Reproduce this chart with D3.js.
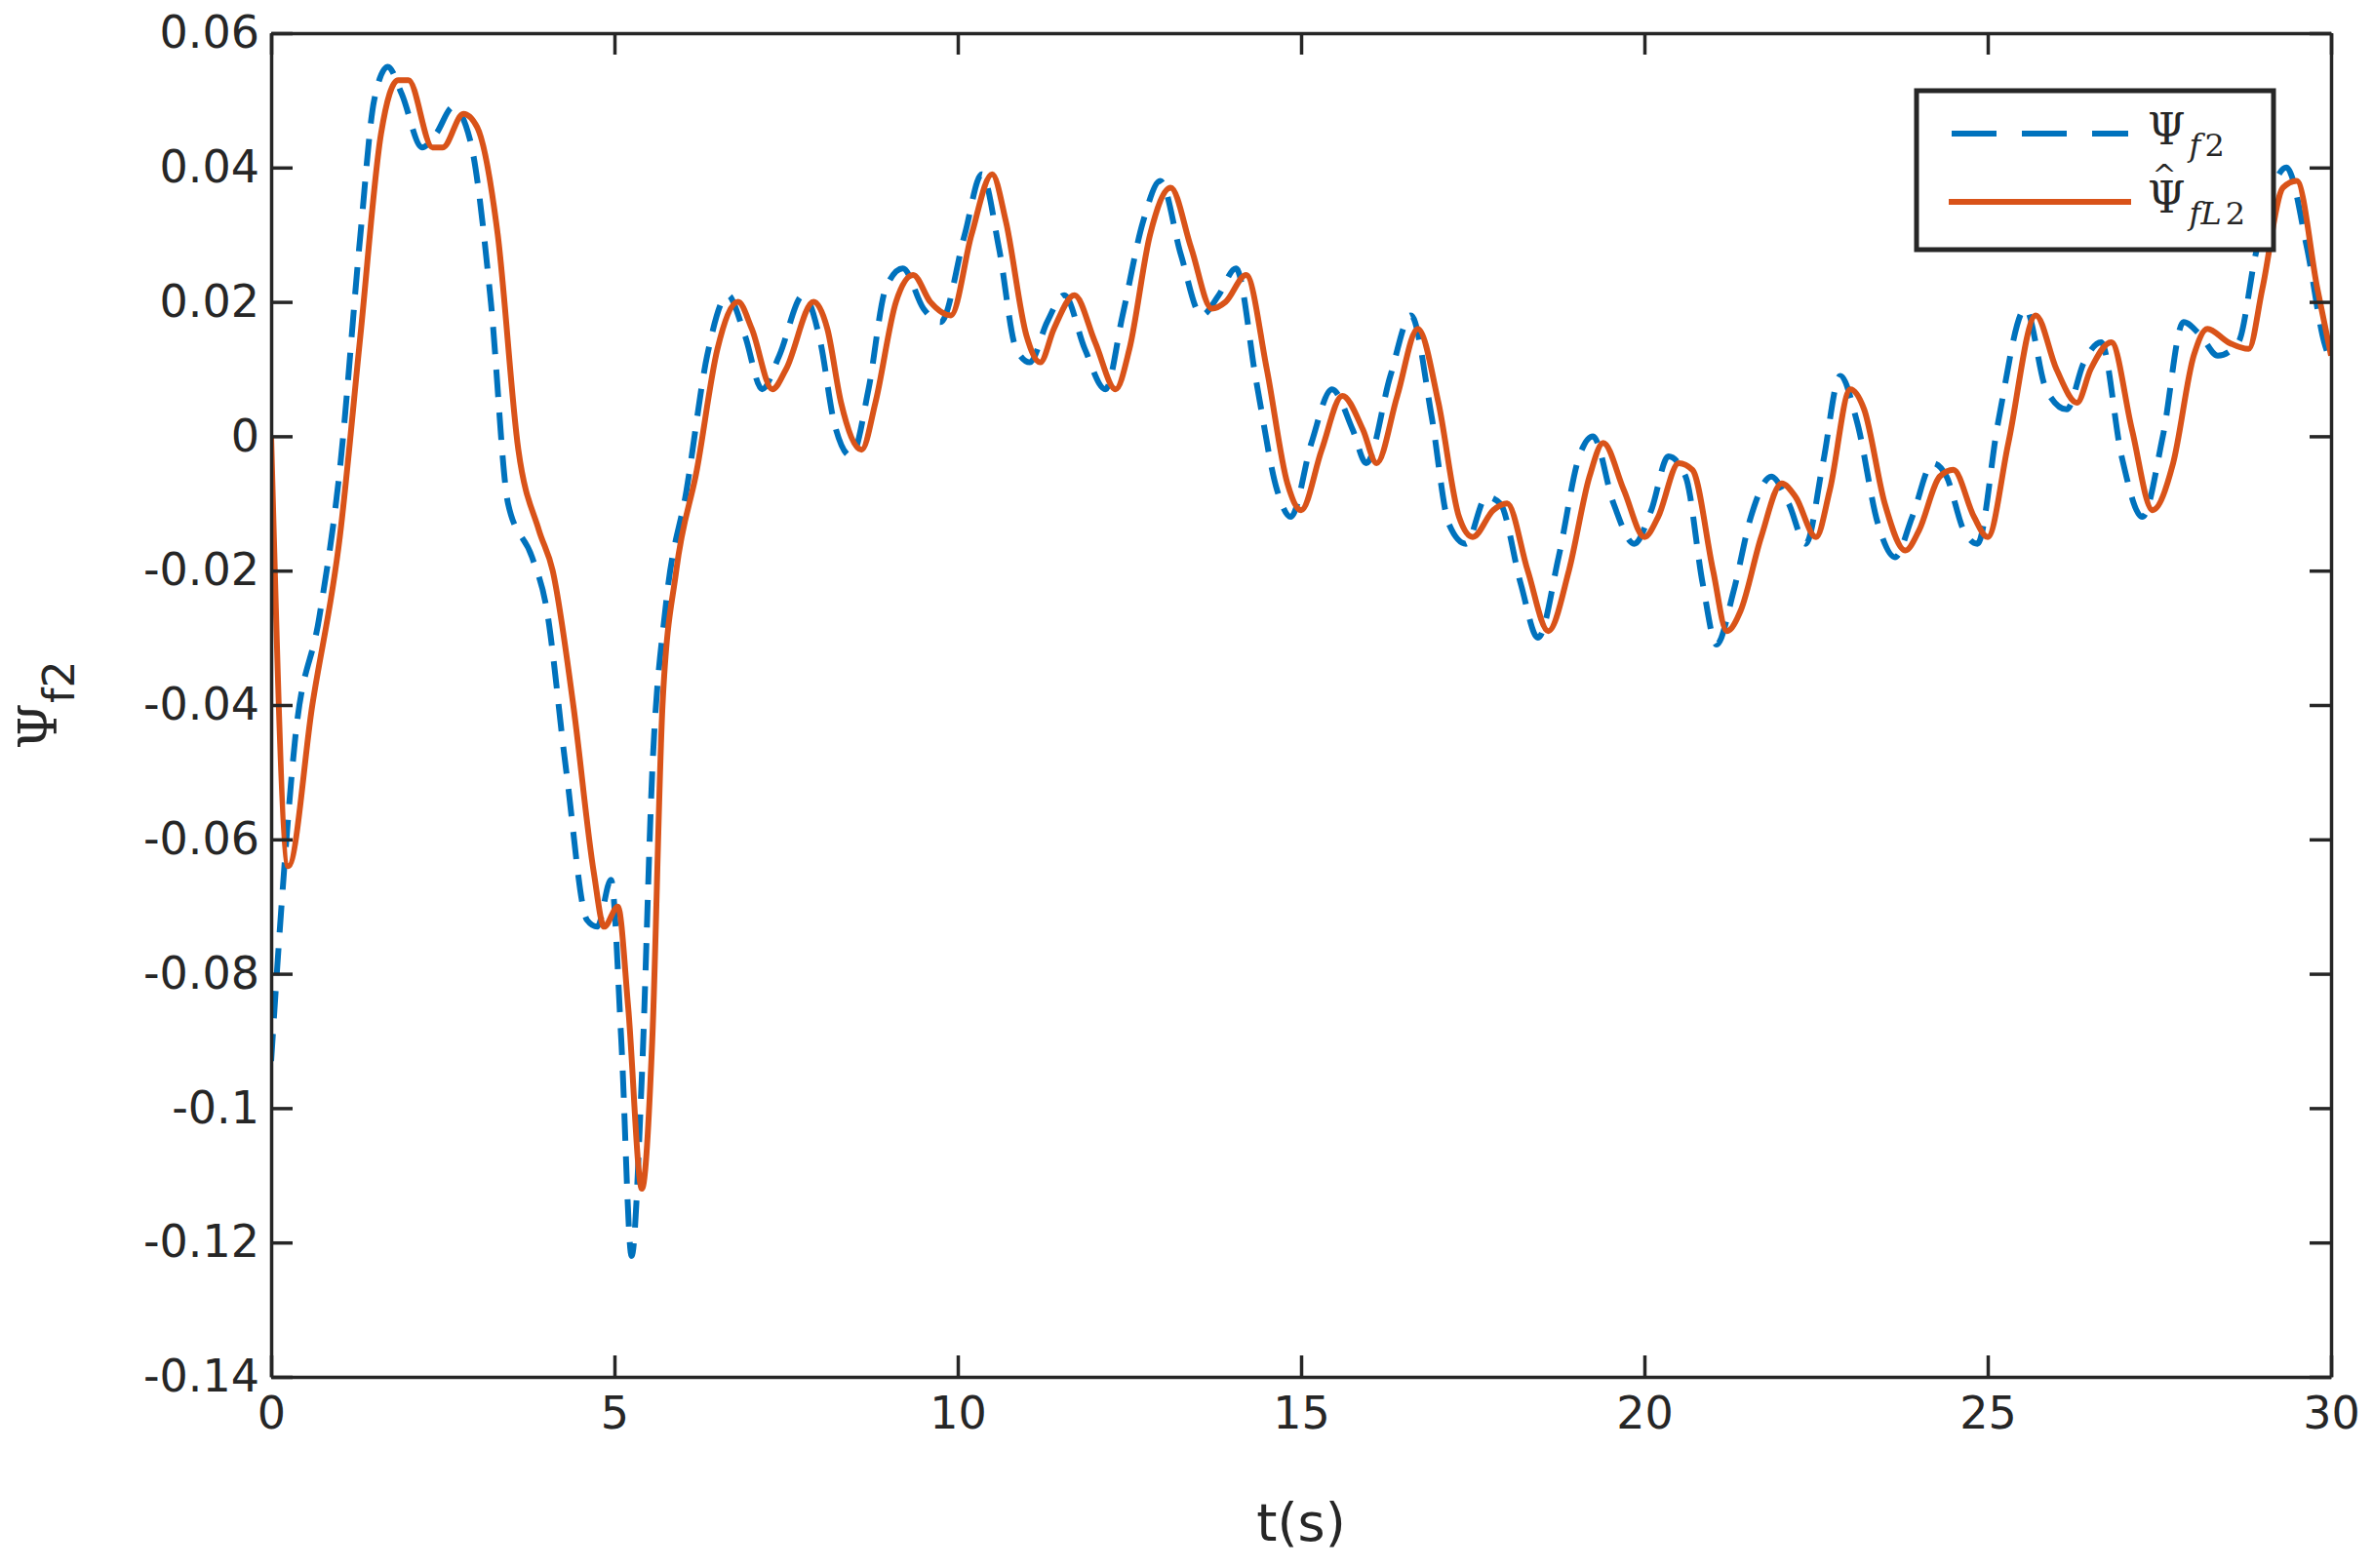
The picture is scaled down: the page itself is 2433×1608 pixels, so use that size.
<!DOCTYPE html>
<html lang="en">
<head>
<meta charset="UTF-8">
<title>Psi f2</title>
<script src="https://d3js.org/d3.v7.min.js"></script>
<style>
  body { margin: 0; background: #fff; }
  text { fill: #262626; }
</style>
</head>
<body>
<svg id="chart" width="2433" height="1608"></svg>
<script>
// measured Psi_f2 (blue dashed)
const psiT = [0,0.15,0.35,0.7,1.0,1.3,1.5,1.7,1.9,2.2,2.4,2.65,2.9,3.2,3.45,3.8,4.0,4.3,4.6,4.75,4.95,5.1,5.25,5.4,5.55,5.75,6.05,6.35,6.65,6.9,7.15,7.4,7.75,8.0,8.2,8.45,8.7,8.95,9.2,9.5,9.75,10.1,10.35,10.6,10.85,11.05,11.3,11.55,11.85,12.15,12.4,12.7,12.95,13.25,13.55,13.8,14.05,14.35,14.65,14.85,15.15,15.45,15.75,15.95,16.3,16.6,16.9,17.15,17.4,17.7,17.9,18.2,18.45,18.75,19.05,19.25,19.55,19.85,20.1,20.35,20.6,20.85,21.05,21.3,21.55,21.85,22.1,22.35,22.6,22.85,23.1,23.4,23.65,23.9,24.2,24.4,24.65,24.85,25.15,25.55,25.85,26.15,26.4,26.65,26.95,27.25,27.55,27.85,28.1,28.35,28.65,28.9,29.15,29.35,29.65,29.9,30];
const psiV = [-0.093,-0.07,-0.045,-0.027,-0.005,0.03,0.05,0.055,0.051,0.043,0.045,0.049,0.044,0.02,-0.01,-0.018,-0.025,-0.05,-0.072,-0.073,-0.066,-0.09,-0.122,-0.095,-0.05,-0.025,-0.008,0.012,0.021,0.015,0.007,0.012,0.021,0.014,0.002,-0.003,0.007,0.022,0.025,0.019,0.017,0.03,0.039,0.028,0.013,0.011,0.017,0.021,0.013,0.007,0.018,0.032,0.038,0.027,0.018,0.021,0.025,0.008,-0.008,-0.012,-0.001,0.007,0.001,-0.004,0.009,0.018,0.003,-0.013,-0.016,-0.009,-0.01,-0.022,-0.03,-0.018,-0.003,0.0,-0.01,-0.016,-0.011,-0.003,-0.006,-0.022,-0.031,-0.023,-0.012,-0.006,-0.01,-0.016,-0.004,0.009,0.002,-0.013,-0.018,-0.012,-0.004,-0.006,-0.014,-0.016,0.002,0.019,0.007,0.004,0.011,0.014,-0.003,-0.012,0.0,0.017,0.015,0.012,0.014,0.027,0.037,0.04,0.028,0.014,0.011];

// estimate Psi_hat_fL2 (orange solid)
const estT = [0,0.25,0.6,1.0,1.3,1.6,1.85,2.0,2.35,2.5,2.8,3.0,3.3,3.6,3.9,4.1,4.4,4.7,4.85,5.05,5.2,5.4,5.55,5.7,5.9,6.2,6.5,6.8,7.0,7.3,7.5,7.9,8.1,8.3,8.6,8.8,9.1,9.35,9.6,9.9,10.2,10.5,10.7,11.0,11.2,11.4,11.7,12.0,12.3,12.5,12.8,13.1,13.4,13.7,13.9,14.2,14.5,14.8,15.0,15.3,15.6,15.9,16.1,16.4,16.7,17.0,17.3,17.5,17.8,18.0,18.3,18.6,18.9,19.2,19.4,19.7,20.0,20.2,20.5,20.7,21.0,21.2,21.4,21.7,22.0,22.2,22.5,22.7,23.0,23.2,23.5,23.8,24.0,24.3,24.5,24.8,25.0,25.3,25.7,26.0,26.3,26.5,26.8,27.1,27.4,27.7,28.0,28.2,28.5,28.8,29.0,29.3,29.5,29.8,30];
const estV = [0,-0.064,-0.04,-0.015,0.015,0.045,0.053,0.053,0.043,0.043,0.048,0.046,0.03,-0.002,-0.014,-0.02,-0.04,-0.065,-0.073,-0.07,-0.085,-0.112,-0.09,-0.04,-0.02,-0.005,0.013,0.02,0.016,0.007,0.01,0.02,0.016,0.005,-0.002,0.005,0.02,0.024,0.02,0.018,0.03,0.039,0.032,0.015,0.011,0.016,0.021,0.014,0.007,0.013,0.03,0.037,0.028,0.019,0.02,0.024,0.01,-0.007,-0.011,-0.002,0.006,0.001,-0.004,0.006,0.016,0.005,-0.012,-0.015,-0.011,-0.01,-0.02,-0.029,-0.02,-0.006,-0.001,-0.008,-0.015,-0.012,-0.004,-0.005,-0.02,-0.029,-0.026,-0.015,-0.007,-0.009,-0.015,-0.008,0.007,0.004,-0.01,-0.017,-0.014,-0.006,-0.005,-0.012,-0.015,-0.001,0.018,0.01,0.005,0.01,0.014,0.001,-0.011,-0.004,0.012,0.016,0.014,0.013,0.022,0.037,0.038,0.022,0.012];

const xTicks = [0,5,10,15,20,25,30];
const yTicks = [0.06,0.04,0.02,0,-0.02,-0.04,-0.06,-0.08,-0.1,-0.12,-0.14];

const L = 278, R = 2390, T = 34, B = 1412;
const axisCol = '#262626', font = 'DejaVu Sans, Liberation Sans, sans-serif';
const svg = d3.select('#chart');
const x = d3.scaleLinear().domain([0, 30]).range([L, R]);
const y = d3.scaleLinear().domain([-0.14, 0.06]).range([B, T]);

svg.append('clipPath').attr('id', 'c').append('rect')
  .attr('x', L).attr('y', T).attr('width', R - L).attr('height', B - T);

const line = d3.line().x(d => x(d[0])).y(d => y(d[1])).curve(d3.curveMonotoneX);
const g = svg.append('g').attr('clip-path', 'url(#c)');
g.append('path').datum(psiT.map((t, i) => [t, psiV[i]]))
  .attr('d', line).attr('fill', 'none').attr('stroke', '#0072BD')
  .attr('stroke-width', 6).attr('stroke-dasharray', '28,16');
g.append('path').datum(estT.map((t, i) => [t, estV[i]]))
  .attr('d', line).attr('fill', 'none').attr('stroke', '#D95319')
  .attr('stroke-width', 6);

// axes, ticks inward, mirrored on top/right
const tl = 22;
function styleAxis(sel) {
  sel.select('.domain').attr('stroke', axisCol).attr('stroke-width', 3.5);
  sel.selectAll('.tick line').attr('stroke', axisCol).attr('stroke-width', 3.5);
  sel.selectAll('text').attr('font-family', font).attr('font-size', 46).attr('fill', axisCol);
}
svg.append('g').attr('transform', `translate(0,${B})`)
  .call(d3.axisBottom(x).tickValues(xTicks).tickSizeInner(-tl).tickSizeOuter(0).tickPadding(20).tickFormat(d3.format('d')))
  .call(styleAxis);
svg.append('g').attr('transform', `translate(0,${T})`)
  .call(d3.axisTop(x).tickValues(xTicks).tickSizeInner(-tl).tickSizeOuter(0).tickFormat(''))
  .call(styleAxis);
svg.append('g').attr('transform', `translate(${L},0)`)
  .call(d3.axisLeft(y).tickValues(yTicks).tickSizeInner(-tl).tickSizeOuter(0).tickPadding(12).tickFormat(d => d === 0 ? '0' : String(+d.toFixed(2))))
  .call(styleAxis);
svg.append('g').attr('transform', `translate(${R},0)`)
  .call(d3.axisRight(y).tickValues(yTicks).tickSizeInner(-tl).tickSizeOuter(0).tickFormat(''))
  .call(styleAxis);

svg.append('text').attr('x', (L + R) / 2).attr('y', 1580).attr('text-anchor', 'middle')
  .attr('font-family', font).attr('font-size', 54).text('t(s)');

const yl = svg.append('text').attr('transform', `translate(58,${(T + B) / 2}) rotate(-90)`)
  .attr('text-anchor', 'middle').attr('font-family', font).attr('font-size', 54);
yl.append('tspan').attr('font-family', 'DejaVu Serif, serif').text('Ψ');
yl.append('tspan').attr('dy', 18).attr('font-size', 44).text('f2');

// legend
const lg = svg.append('g');
lg.append('rect').attr('x', 1965).attr('y', 93).attr('width', 366).attr('height', 163)
  .attr('fill', '#fff').attr('stroke', axisCol).attr('stroke-width', 5);
lg.append('line').attr('x1', 2001).attr('x2', 2182).attr('y1', 137).attr('y2', 137)
  .attr('stroke', '#0072BD').attr('stroke-width', 6).attr('stroke-dasharray', '46,26');
lg.append('line').attr('x1', 1998).attr('x2', 2185).attr('y1', 207).attr('y2', 207)
  .attr('stroke', '#D95319').attr('stroke-width', 6);
const serif = 'DejaVu Serif, Liberation Serif, serif';
const t1 = lg.append('text').attr('x', 2202).attr('y', 148).attr('font-family', serif).attr('font-size', 44).attr('fill', '#000');
t1.append('tspan').text('Ψ');
t1.append('tspan').attr('dx', 4).attr('dy', 12).attr('font-size', 32).attr('font-style', 'italic').text('f');
t1.append('tspan').attr('dx', 4).attr('font-size', 32).text('2');
const t2 = lg.append('text').attr('x', 2202).attr('y', 218).attr('font-family', serif).attr('font-size', 44).attr('fill', '#000');
t2.append('tspan').text('Ψ');
t2.append('tspan').attr('dx', 4).attr('dy', 12).attr('font-size', 32).attr('font-style', 'italic').text('fL');
t2.append('tspan').attr('dx', 4).attr('font-size', 32).text('2');
lg.append('text').attr('x', 2219).attr('y', 190).attr('text-anchor', 'middle')
  .attr('font-family', serif).attr('font-size', 30).attr('fill', '#000').text('^');
</script>
</body>
</html>
